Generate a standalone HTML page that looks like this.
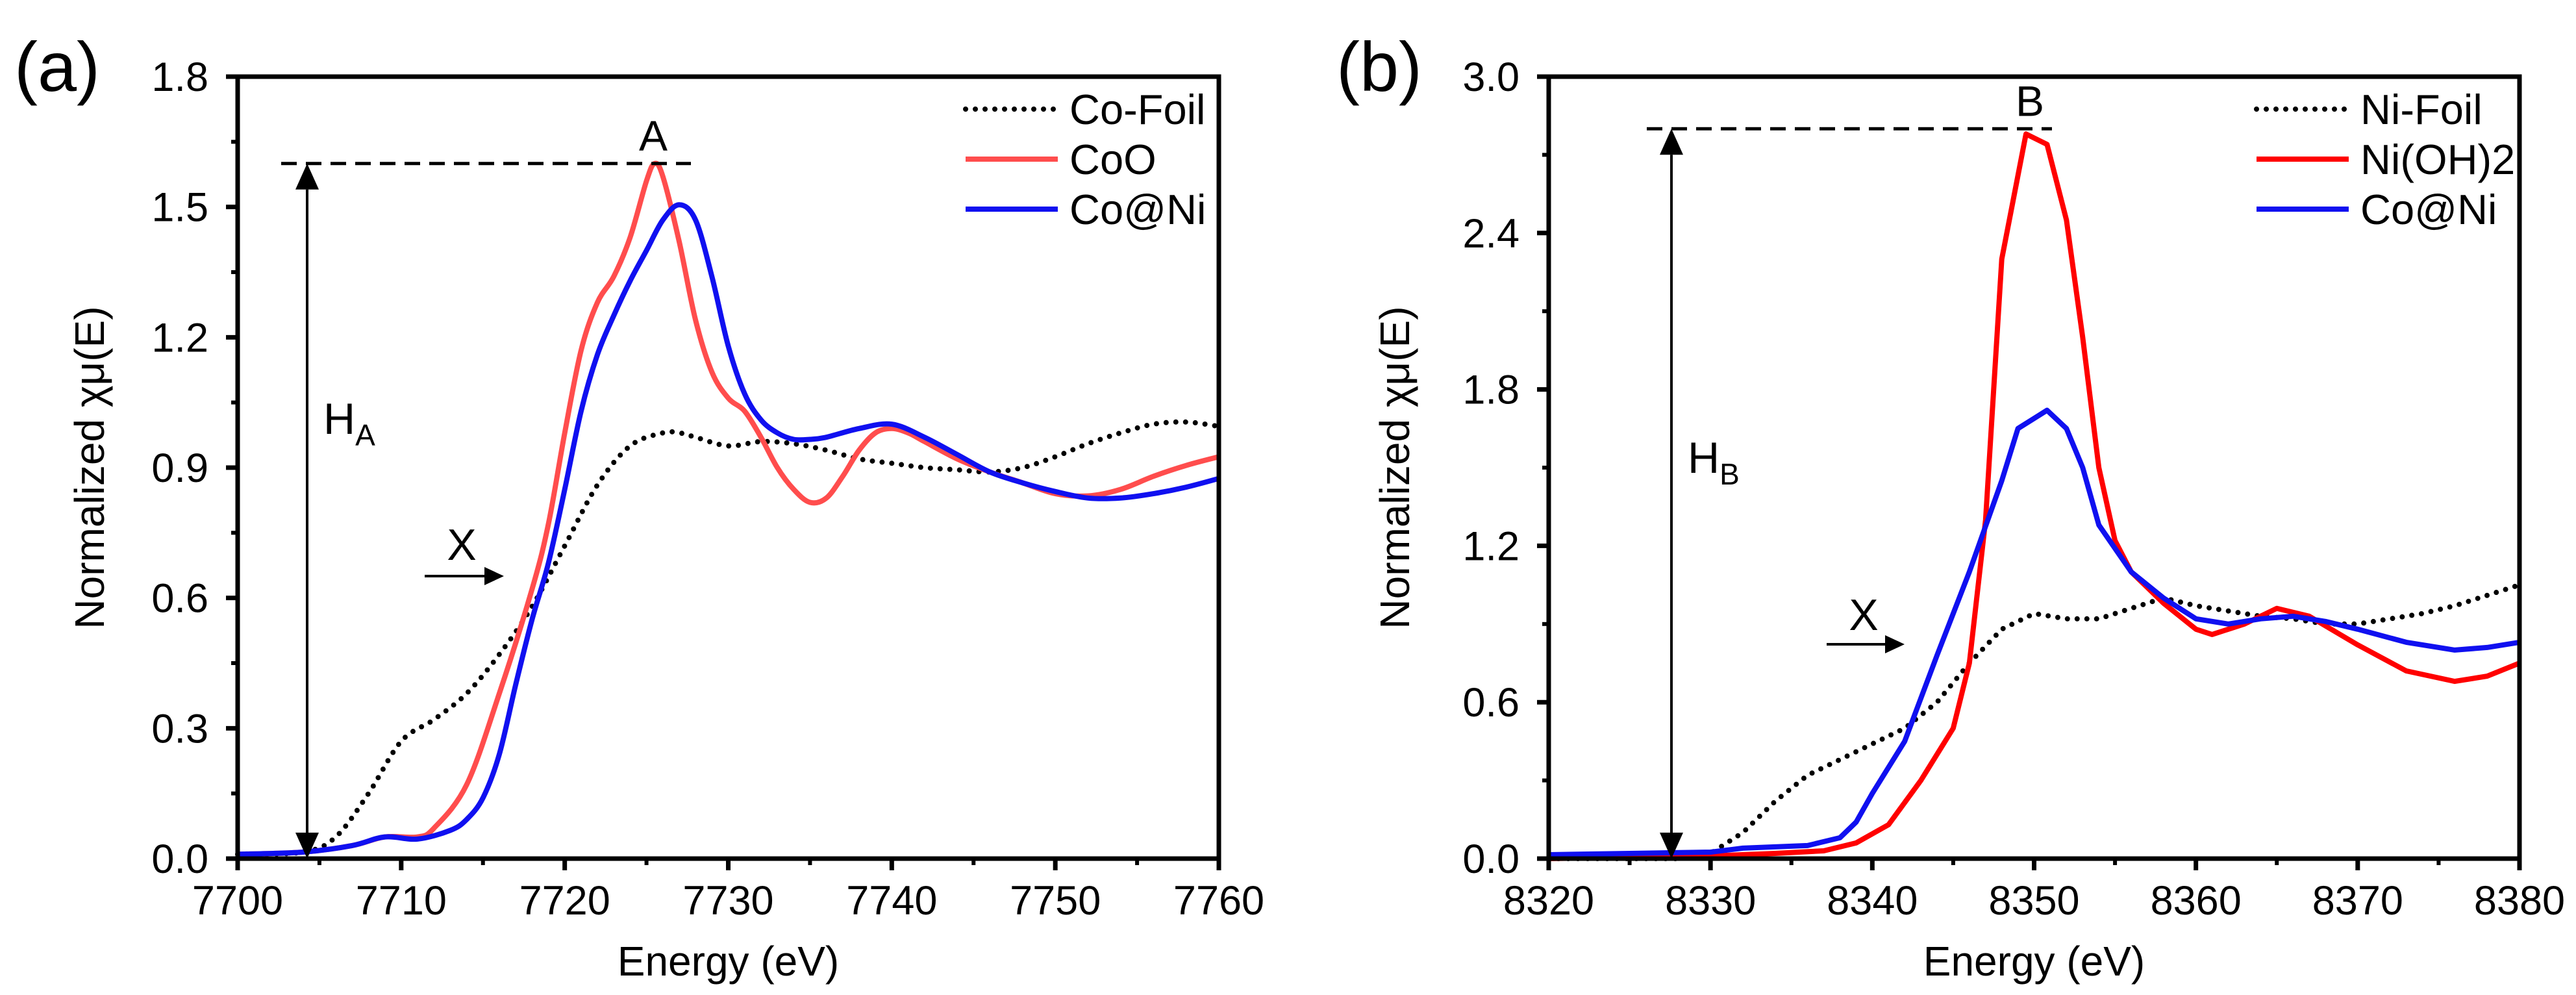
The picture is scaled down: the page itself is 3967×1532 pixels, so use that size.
<!DOCTYPE html>
<html><head><meta charset="utf-8"><style>
html,body{margin:0;padding:0;background:#fff;}
svg{display:block;font-family:"Liberation Sans",Arial,sans-serif;}
</style></head><body>
<svg id="fig" width="3967" height="1532" viewBox="0 0 3967 1532" xmlns="http://www.w3.org/2000/svg"></svg>
<script>
// ---------- Panel (a) data ----------
const aFoilX=[7700,7704,7706,7708,7710,7712,7714,7716,7718,7720,7722,7724,7726,7727,7728,7730,7732,7734,7736,7738,7740,7742,7744,7746,7748,7750,7752,7754,7756,7758,7760];
const aFoilY=[0.01,0.015,0.05,0.15,0.27,0.32,0.38,0.47,0.58,0.72,0.86,0.95,0.98,0.98,0.97,0.95,0.96,0.955,0.94,0.92,0.91,0.90,0.895,0.89,0.90,0.925,0.955,0.98,1.0,1.005,0.995];
const aCoOX=[7700,7704,7707,7709,7711,7712,7714,7716,7718,7719,7720,7721,7722,7723,7724,7725,7725.5,7726,7727,7728,7729,7730,7731,7732,7733,7734,7735,7736,7737,7738,7739,7740,7741,7742,7744,7746,7748,7750,7752,7754,7756,7758,7760];
const aCoOY=[0.01,0.015,0.03,0.05,0.05,0.07,0.17,0.38,0.62,0.77,0.98,1.17,1.28,1.34,1.43,1.56,1.6,1.57,1.42,1.24,1.12,1.06,1.03,0.97,0.90,0.85,0.82,0.83,0.88,0.94,0.98,0.99,0.98,0.96,0.92,0.89,0.865,0.84,0.835,0.85,0.88,0.905,0.925];
const aCoNiX=[7700,7704,7707,7709,7711,7713,7714,7715,7716,7717,7718,7719,7720,7721,7722,7723,7724,7725,7726,7727,7728,7729,7730,7731,7732,7733,7734,7735,7736,7738,7740,7742,7744,7746,7748,7750,7752,7754,7756,7758,7760];
const aCoNiY=[0.01,0.015,0.03,0.05,0.045,0.065,0.09,0.14,0.24,0.40,0.55,0.68,0.85,1.03,1.16,1.25,1.33,1.40,1.47,1.505,1.47,1.34,1.18,1.07,1.01,0.98,0.965,0.965,0.97,0.99,1.0,0.97,0.93,0.89,0.865,0.845,0.83,0.83,0.84,0.855,0.875];
const aXTicks=[7700,7710,7720,7730,7740,7750,7760];
const aYTicks=[0,0.3,0.6,0.9,1.2,1.5,1.8];
const aYLabels=["0.0","0.3","0.6","0.9","1.2","1.5","1.8"];
// ---------- Panel (b) data ----------
const bFoilX=[8320,8328,8330,8332,8334,8336,8338,8340,8342,8344,8346,8348,8350,8352,8354,8356,8358,8360,8362,8364,8366,8368,8370,8372,8374,8376,8378,8380];
const bFoilY=[0.0,0.0,0.02,0.1,0.22,0.32,0.38,0.44,0.5,0.6,0.75,0.88,0.94,0.92,0.92,0.96,1.0,0.97,0.95,0.93,0.92,0.90,0.90,0.92,0.94,0.97,1.01,1.05];
const bNiOHX=[8320,8330,8334,8337,8339,8341,8343,8345,8346,8347,8348,8349.5,8350.8,8352,8353,8354,8355,8356,8358,8360,8361,8363,8365,8367,8370,8373,8376,8378,8380];
const bNiOHY=[0.0,0.01,0.02,0.03,0.06,0.13,0.3,0.5,0.75,1.3,2.3,2.78,2.74,2.45,2.0,1.5,1.22,1.1,0.98,0.88,0.86,0.9,0.96,0.93,0.82,0.72,0.68,0.70,0.75];
const bCoNiX=[8320,8325,8330,8332,8336,8338,8339,8340,8342,8344,8346,8348,8349,8350.8,8352,8353,8354,8356,8358,8360,8362,8364,8366,8368,8370,8373,8376,8378,8380];
const bCoNiY=[0.015,0.02,0.025,0.04,0.05,0.08,0.14,0.25,0.45,0.78,1.1,1.45,1.65,1.72,1.65,1.5,1.28,1.1,1.0,0.92,0.9,0.92,0.93,0.91,0.88,0.83,0.8,0.81,0.83];
const bXTicks=[8320,8330,8340,8350,8360,8370,8380];
const bYTicks=[0,0.6,1.2,1.8,2.4,3.0];
const bYLabels=["0.0","0.6","1.2","1.8","2.4","3.0"];

const NS="http://www.w3.org/2000/svg";
const svg=document.getElementById('fig');
function el(tag,attrs,parent,text){const e=document.createElementNS(NS,tag);for(const k in attrs)e.setAttribute(k,attrs[k]);if(text!==undefined)e.textContent=text;(parent||svg).appendChild(e);return e;}

function smoothPath(pts){
  let d="M"+pts[0][0].toFixed(1)+","+pts[0][1].toFixed(1);
  for(let i=0;i<pts.length-1;i++){
    const p0=pts[Math.max(0,i-1)],p1=pts[i],p2=pts[i+1],p3=pts[Math.min(pts.length-1,i+2)];
    const c1x=p1[0]+(p2[0]-p0[0])/6,c1y=p1[1]+(p2[1]-p0[1])/6;
    const c2x=p2[0]-(p3[0]-p1[0])/6,c2y=p2[1]-(p3[1]-p1[1])/6;
    d+=" C"+c1x.toFixed(1)+","+c1y.toFixed(1)+" "+c2x.toFixed(1)+","+c2y.toFixed(1)+" "+p2[0].toFixed(1)+","+p2[1].toFixed(1);
  }
  return d;
}
function linePath(pts){return pts.map((p,i)=>(i?"L":"M")+p[0].toFixed(1)+","+p[1].toFixed(1)).join(" ");}

function panel(cfg){
  const g=el('g',{});
  
  
  const L=cfg.L,R=cfg.R,T=118,B=1322;
  const sx=v=>L+(v-cfg.x0)/(cfg.x1-cfg.x0)*(R-L);
  const sy=v=>B-(v-cfg.y0)/(cfg.y1-cfg.y0)*(B-T);
  cfg.series.forEach(s=>{
    const pts=s.x.map((x,i)=>[sx(x),sy(s.y[i])]);
    const p=el('path',{d:cfg.smooth?smoothPath(pts):linePath(pts),fill:'none',stroke:s.color,'stroke-width':s.dot?8:8,'stroke-linejoin':'round','stroke-linecap':s.dot?'round':'butt'},g);
    if(s.dot)p.setAttribute('stroke-dasharray','0 15');
    
    
  });
  const fr=el('rect',{x:L,y:T,width:R-L,height:B-T,fill:'none',stroke:'#000','stroke-width':7},g);
  
  
  const xs=cfg.xTicks;
  for(let i=0;i<xs.length;i++){
    const x=sx(xs[i]);
    el('line',{x1:x,y1:B,x2:x,y2:B+18,stroke:'#000','stroke-width':7},g);
    if(i<xs.length-1){const xm=sx((xs[i]+xs[i+1])/2);el('line',{x1:xm,y1:B,x2:xm,y2:B+10,stroke:'#000','stroke-width':6},g);}
    const t=el('text',{x:x,y:1408,'font-size':63,'text-anchor':'middle',fill:'#000'},g,String(xs[i]));
    
    
  }
  const ys=cfg.yTicks;
  for(let i=0;i<ys.length;i++){
    const y=sy(ys[i]);
    el('line',{x1:L-18,y1:y,x2:L,y2:y,stroke:'#000','stroke-width':7},g);
    if(i<ys.length-1){const ym=sy((ys[i]+ys[i+1])/2);el('line',{x1:L-10,y1:ym,x2:L,y2:ym,stroke:'#000','stroke-width':6},g);}
    const t=el('text',{x:L-45,y:y+22,'font-size':63,'text-anchor':'end',fill:'#000'},g,cfg.yLabels[i]);
    
    
  }
  const xt=el('text',{x:(L+R)/2,y:1502,'font-size':64,'text-anchor':'middle',fill:'#000'},g,'Energy (eV)');
  
  
  const yt=el('text',{x:0,y:0,'font-size':64,'text-anchor':'middle',fill:'#000',transform:'translate('+cfg.ylabX+',720) rotate(-90)'},g,'Normalized χμ(E)');
  
  
  const pl=el('text',{x:cfg.plX,y:140,'font-size':108,fill:'#000'},g,cfg.letter);
  
  
  cfg.series.forEach((s,i)=>{
    const y=168+i*77;
    const ln=el('line',{x1:cfg.legX,y1:y,x2:cfg.legX+142,y2:y,stroke:s.color,'stroke-width':8,'stroke-linecap':s.dot?'round':'butt'},g);
    if(s.dot)ln.setAttribute('stroke-dasharray','0 15');
    
    
    const t=el('text',{x:cfg.legX+160,y:y+23,'font-size':65,fill:'#000'},g,s.label);
    
    
  });
  const pk=sy(cfg.peak);
  el('line',{x1:cfg.dashX0,y1:pk,x2:cfg.dashX1,y2:pk,stroke:'#000','stroke-width':5,'stroke-dasharray':'24 14'},g);
  el('line',{x1:cfg.arrX,y1:pk+40,x2:cfg.arrX,y2:B-40,stroke:'#000','stroke-width':4},g);
  el('polygon',{points:(cfg.arrX-18)+","+(pk+40)+" "+(cfg.arrX+18)+","+(pk+40)+" "+cfg.arrX+","+pk},g);
  el('polygon',{points:(cfg.arrX-18)+","+(B-40)+" "+(cfg.arrX+18)+","+(B-40)+" "+cfg.arrX+","+B},g);
  const pkl=el('text',{x:cfg.pkLabX,y:pk-20,'font-size':66,'text-anchor':'middle',fill:'#000'},g,cfg.pkLab);
  
  
  const h=el('text',{x:cfg.arrX+25,y:cfg.hY,'font-size':68,fill:'#000'},g);
  
  
  el('tspan',{},h,'H');
  el('tspan',{'font-size':46,dy:18},h,cfg.hSub);
  const xl=el('text',{x:cfg.xLabX,y:cfg.xLabY,'font-size':68,'text-anchor':'middle',fill:'#000'},g,'X');
  
  
  el('line',{x1:cfg.xArrX0,y1:cfg.xArrY,x2:cfg.xArrX1-25,y2:cfg.xArrY,stroke:'#000','stroke-width':4},g);
  el('polygon',{points:(cfg.xArrX1-30)+","+(cfg.xArrY-14)+" "+(cfg.xArrX1-30)+","+(cfg.xArrY+14)+" "+cfg.xArrX1+","+cfg.xArrY},g);
}

panel({name:'panel-a',letter:'(a)',L:366,R:1877,x0:7700,x1:7760,y0:0,y1:1.8,xTicks:aXTicks,yTicks:aYTicks,yLabels:aYLabels,smooth:true,
 ylabX:160,plX:22,legX:1487,peak:1.6,dashX0:433,dashX1:1064,arrX:473,pkLabX:1006,pkLab:'A',hY:668,hSub:'A',
 xLabX:711,xLabY:862,xArrX0:654,xArrX1:776,xArrY:887,
 series:[{id:'co-foil-line',label:'Co-Foil',x:aFoilX,y:aFoilY,color:'#000',dot:true},
         {id:'coo-line',label:'CoO',x:aCoOX,y:aCoOY,color:'#ff4d4d'},
         {id:'co-at-ni-line',label:'Co@Ni',x:aCoNiX,y:aCoNiY,color:'#1010f0'}]});
panel({name:'panel-b',letter:'(b)',L:2385,R:3880,x0:8320,x1:8380,y0:0,y1:3.0,xTicks:bXTicks,yTicks:bYTicks,yLabels:bYLabels,smooth:false,
 ylabX:2170,plX:2058,legX:3475,peak:2.8,dashX0:2536,dashX1:3160,arrX:2574,pkLabX:3126,pkLab:'B',hY:728,hSub:'B',
 xLabX:2870,xLabY:970,xArrX0:2813,xArrX1:2933,xArrY:992,
 series:[{id:'ni-foil-line',label:'Ni-Foil',x:bFoilX,y:bFoilY,color:'#000',dot:true},
         {id:'ni-oh2-line',label:'Ni(OH)2',x:bNiOHX,y:bNiOHY,color:'#ff0000'},
         {id:'co-at-ni-line',label:'Co@Ni',x:bCoNiX,y:bCoNiY,color:'#1010f0'}]});
</script>
</body></html>
